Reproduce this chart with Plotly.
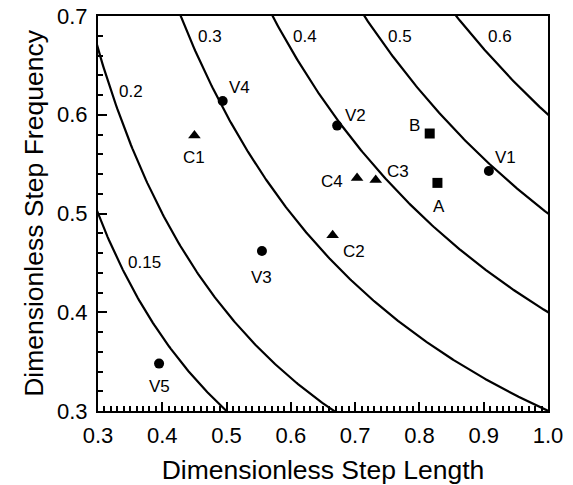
import numpy as np
import plotly.graph_objects as go

# ---- data ----
speed_levels = [0.15, 0.2, 0.3, 0.4, 0.5, 0.6]
level_labels = ["0.15", "0.2", "0.3", "0.4", "0.5", "0.6"]
level_label_x = [0.372, 0.352, 0.474, 0.622, 0.770, 0.925]
level_label_y = [0.450, 0.624, 0.679, 0.679, 0.679, 0.679]

v_names = ["V1", "V2", "V3", "V4", "V5"]
v_length = [0.908, 0.672, 0.555, 0.494, 0.395]
v_freq = [0.543, 0.589, 0.462, 0.614, 0.348]

c_names = ["C1", "C2", "C3", "C4"]
c_length = [0.450, 0.665, 0.732, 0.703]
c_freq = [0.579, 0.478, 0.534, 0.536]

s_names = ["A", "B"]
s_length = [0.828, 0.816]
s_freq = [0.531, 0.581]

x_ticks = [0.3, 0.4, 0.5, 0.6, 0.7, 0.8, 0.9, 1.0]
y_ticks = [0.3, 0.4, 0.5, 0.6, 0.7]

# ---- label offsets (pixels: dx right, dy down) ----
label_offsets = {
    "V1": (17, -14), "V2": (18, -10), "V3": (0, 26), "V4": (17, -13), "V5": (0, 23),
    "C1": (0, 22), "C2": (21, 16), "C3": (22, -8), "C4": (-25, 4),
    "A": (2, 24), "B": (-15, -8),
}

FONT = "Liberation Sans, Arial, Helvetica, sans-serif"
fig = go.Figure()

xs = np.linspace(0.2, 1.05, 400)
for lvl in speed_levels:
    fig.add_trace(go.Scatter(x=xs, y=lvl / xs, mode="lines",
                             line=dict(color="black", width=2.2), hoverinfo="skip"))

fig.add_trace(go.Scatter(x=v_length, y=v_freq, mode="markers",
                         marker=dict(symbol="circle", size=10, color="black")))
fig.add_trace(go.Scatter(x=c_length, y=c_freq, mode="markers",
                         marker=dict(symbol="triangle-up", size=11, color="black")))
fig.add_trace(go.Scatter(x=s_length, y=s_freq, mode="markers",
                         marker=dict(symbol="square", size=10, color="black")))

for name, x, y in zip(level_labels, level_label_x, level_label_y):
    fig.add_annotation(x=x, y=y, text=name, showarrow=False,
                       font=dict(family=FONT, size=17, color="black"))

for names, xl, yl in [(v_names, v_length, v_freq), (c_names, c_length, c_freq), (s_names, s_length, s_freq)]:
    for n, x, y in zip(names, xl, yl):
        dx, dy = label_offsets[n]
        fig.add_annotation(x=x, y=y, text=n, showarrow=False, xshift=dx, yshift=-dy,
                           font=dict(family=FONT, size=17, color="black"))

axis_common = dict(showgrid=False, zeroline=False, showline=True, linecolor="black",
                   linewidth=2, mirror=True, ticks="inside", tickcolor="black",
                   tickwidth=1.5, ticklen=9, tickformat=".1f", ticklabelstandoff=4,
                   automargin=False,
                   tickfont=dict(family=FONT, size=22, color="black"))

fig.update_xaxes(range=[0.3, 1.0], tickvals=x_ticks, **axis_common,
                 minor=dict(dtick=0.01, ticks="inside", ticklen=5, tickcolor="black", tickwidth=1.5),
                 title=dict(text="Dimensionless Step Length", font=dict(family=FONT, size=26.5, color="black"),
                            standoff=22))
fig.update_yaxes(range=[0.3, 0.7], tickvals=y_ticks, **axis_common,
                 minor=dict(dtick=0.02, ticks="inside", ticklen=5, tickcolor="black", tickwidth=1.5),
                 title=dict(text="Dimensionless Step Frequency", font=dict(family=FONT, size=26.5, color="black"),
                            standoff=6))

fig.update_layout(width=573, height=485, showlegend=False,
                  margin=dict(l=98, r=25, t=16, b=74),
                  paper_bgcolor="white", plot_bgcolor="white")

fig.write_html("out.html")
